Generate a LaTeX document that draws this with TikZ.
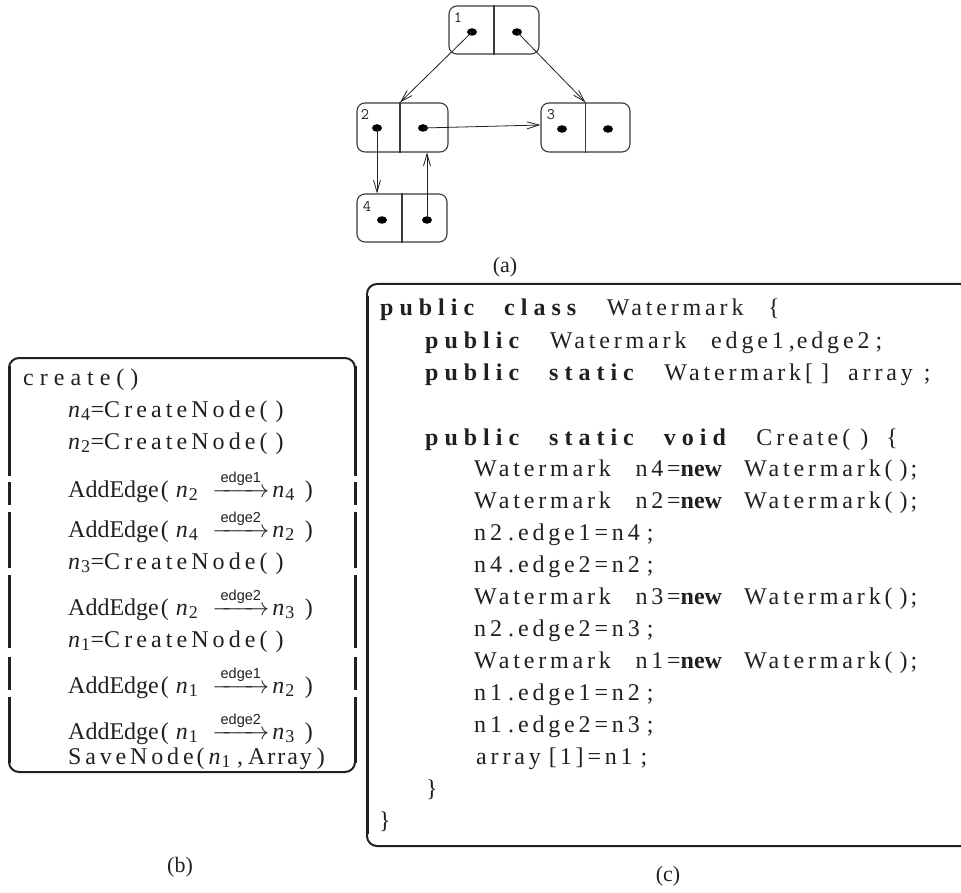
\documentclass[tikz,border=0pt]{standalone}
\usepackage{fontspec}
\usepackage{amsmath}
\setmainfont{Liberation Serif}
\setsansfont{Liberation Sans}
\newfontfamily\codefont[LetterSpace=16,WordSpace=2.5,BoldFeatures={LetterSpace=25}]{Liberation Serif}
\newfontfamily\plainfont{Liberation Serif}
\usetikzlibrary{arrows.meta,shapes.geometric}
\definecolor{ink}{HTML}{231F20}
\definecolor{boxgray}{HTML}{3A3A3A}
\newcommand\ls[2]{{\addfontfeatures{LetterSpace=#1}#2}}
\newcommand\nn[1]{\textit{n}\hspace{1pt}\textsubscript{\fontsize{18}{18}\selectfont #1}}
\newcommand\earr[1]{\ensuremath{\overset{\text{\fontsize{14.5}{15}\selectfont\sffamily #1}}{\makebox[57pt]{\rightarrowfill}}}}
\newcommand\nw{{\plainfont\bfseries new}\hspace{22pt}}
\newcommand\wm{Watermark(\hspace{7pt})\hspace{3pt};}
\newcommand\addedge[3]{AddEdge\hspace{2pt}(\hspace{7pt}\nn{#1}\hspace{14pt}\earr{#2}\hspace{3pt}\nn{#3}\hspace{10pt})}
\newcommand\crnode[1]{\nn{#1}=\ls{17}{CreateNode}\hspace{4pt}(\hspace{8pt})}
\tikzset{
  gbox/.style={draw=boxgray, line width=1.1pt, rounded corners=8pt, minimum width=90pt, minimum height=48pt, inner sep=0pt},
  dotn/.style={ellipse, fill=black, inner sep=0pt, minimum width=10pt, minimum height=7.5pt},
  lbl/.style={font=\ttfamily\fontsize{16}{16}\selectfont, text=ink, inner sep=0pt},
  garr/.style={draw=ink, line width=0.8pt, -{Straight Barb[length=12pt,width=7pt]}},
  divl/.style={draw=boxgray, line width=1.1pt},
  bline/.style={anchor=base west, inner sep=0pt, text=ink, font=\fontsize{24}{28}\selectfont},
  cline/.style={anchor=base west, inner sep=0pt, text=ink, font=\codefont\fontsize{24}{28}\selectfont},
  capt/.style={font=\fontsize{22}{24}\selectfont, text=ink, inner sep=0pt},
  bside/.style={draw=ink, line width=3pt},
  bedge/.style={draw=ink, line width=2pt, rounded corners=10pt}
}
\begin{document}
\begin{tikzpicture}[x=1pt,y=-1pt]
\useasboundingbox (0,0) rectangle (961,893);
% ---- (a) graph
\node[gbox] (n1) at (494,30) {};
\node[gbox, minimum width=91pt, minimum height=49pt] (n2) at (402.5,127.5) {};
\node[gbox, minimum width=89pt, minimum height=49pt] (n3) at (585.5,127.5) {};
\node[gbox] (n4) at (402,218) {};
\draw[divl] (n1.north) -- (n1.south);
\draw[divl] ([xshift=-2.5pt]n2.north) -- ([xshift=-2.5pt]n2.south);
\draw[divl] (n3.north) -- (n3.south);
\draw[divl] (n4.north) -- (n4.south);
\node[lbl] (l1) at (458,18) {1};
\node[lbl] (l2) at (365,115) {2};
\node[lbl] (l3) at (551,115) {3};
\node[lbl] (l4) at (367,207) {4};
\node[dotn] (d1l) at (472,32) {};
\node[dotn] (d1r) at (517,32) {};
\node[dotn] (d2l) at (377,128) {};
\node[dotn] (d2r) at (423,128) {};
\node[dotn] (d3l) at (562,129) {};
\node[dotn] (d3r) at (608,129) {};
\node[dotn] (d4l) at (382,220) {};
\node[dotn] (d4r) at (427,220) {};
\draw[garr] (d1l.center) -- ([xshift=-2.5pt]n2.north);
\draw[garr] (d1r.center) -- (n3.north);
\draw[garr] (d2r.center) -- ([yshift=2.5pt]n3.west);
\draw[garr] (d2l.center) -- (d2l.center |- n4.north);
\draw[garr] (d4r.center) -- (d4r.center |- n2.south);
\node[capt] (capa) at (505,267) {(a)};
% ---- (b) frame
\draw[bedge] (9,372) -- (9,358) -- (355,358) -- (355,372);
\draw[bedge] (9,758) -- (9,772) -- (355,772) -- (355,758);
\foreach \a/\b in {366/476, 482/505, 512/568, 575/648, 657/690, 697/763} {
  \draw[bside] (9,\a) -- (9,\b);
  \draw[bside] (355,\a) -- (355,\b);
}
\node[bline] (b1) at (23,385) {\ls{25}{create}\ls{25}{()}};
\node[bline] (b2) at (68,417) {\crnode{4}};
\node[bline] (b3) at (68,449) {\crnode{2}};
\node[bline] (b4) at (68,497) {\addedge{2}{edge1}{4}};
\node[bline] (b5) at (68,537) {\addedge{4}{edge2}{2}};
\node[bline] (b6) at (68,569) {\crnode{3}};
\node[bline] (b7) at (68,615) {\addedge{2}{edge2}{3}};
\node[bline] (b8) at (68,647) {\crnode{1}};
\node[bline] (b9) at (68,693) {\addedge{1}{edge1}{2}};
\node[bline] (b10) at (68,739) {\addedge{1}{edge2}{3}};
\node[bline] (b11) at (68,764) {\ls{16}{SaveNode}\hspace{3pt}(\hspace{4pt}\nn{1}\hspace{6pt},\hspace{5pt}\ls{8}{Array}\hspace{5pt})};
\node[capt] (capb) at (180,867) {(b)};
% ---- (c) frame
\draw[bedge] (962,284) -- (367,284) -- (367,846) -- (962,846);
\draw[bside] (367,296) -- (367,834);
\node[cline] (c1) at (380,316) {\textbf{public class} Watermark \{};
\node[cline] (c2) at (425,348) {\textbf{public} Watermark edge1\hspace{5pt},\hspace{2pt}edge2\hspace{6pt};};
\node[cline] (c3) at (425,380) {\textbf{public static} Watermark\hspace{4pt}[\hspace{8pt}]\hspace{19pt}array\hspace{11pt};};
\node[cline] (c4) at (425,445) {\textbf{public static void} Create\hspace{4pt}(\hspace{10pt})\hspace{18pt}\{};
\node[cline] (c5) at (474,476) {Watermark n4=\nw\wm};
\node[cline] (c6) at (474,508) {Watermark n2=\nw\wm};
\node[cline] (c7) at (474,540) {n2\hspace{6pt}.\hspace{4pt}edge1=n4\hspace{7pt};};
\node[cline] (c8) at (474,572) {n4\hspace{6pt}.\hspace{4pt}edge2=n2\hspace{7pt};};
\node[cline] (c9) at (474,604) {Watermark n3=\nw\wm};
\node[cline] (c10) at (474,636) {n2\hspace{6pt}.\hspace{4pt}edge2=n3\hspace{7pt};};
\node[cline] (c11) at (474,668) {Watermark n1=\nw\wm};
\node[cline] (c12) at (474,700) {n1\hspace{6pt}.\hspace{4pt}edge1=n2\hspace{7pt};};
\node[cline] (c13) at (474,732) {n1\hspace{6pt}.\hspace{4pt}edge2=n3\hspace{7pt};};
\node[cline] (c14) at (476,764) {array\hspace{8pt}[\hspace{3pt}1]=n1\hspace{8pt};};
\node[cline] (c15) at (426,796) {\}};
\node[cline] (c16) at (379,828) {\}};
\node[capt] (capc) at (668,876) {(c)};
\end{tikzpicture}
\end{document}
